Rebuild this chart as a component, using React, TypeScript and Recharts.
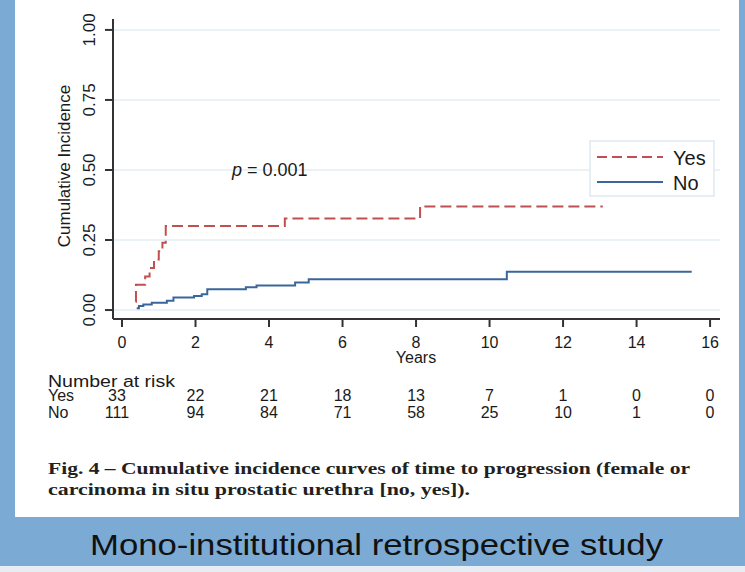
import React from "react";
import { LineChart, Line, XAxis, YAxis, CartesianGrid } from "recharts";

// ---- data ----
const yesTimes = [0.37, 0.38, 0.63, 0.75, 0.87, 1.0, 1.1, 1.19, 4.43, 8.11, 13.08];
const yesValues = [0.03, 0.09, 0.12, 0.15, 0.18, 0.21, 0.24, 0.3, 0.327, 0.37, 0.37];

const noTimes = [0.4, 0.46, 0.58, 0.81, 1.22, 1.4, 1.96, 2.17, 2.32, 3.37, 3.66, 4.71, 5.08, 10.47, 15.5];
const noValues = [0.006, 0.014, 0.02, 0.026, 0.033, 0.045, 0.05, 0.056, 0.074, 0.081, 0.088, 0.098, 0.11, 0.137, 0.137];

const xTicks = [0, 2, 4, 6, 8, 10, 12, 14, 16];
const yTicks = [0, 0.25, 0.5, 0.75, 1];
const riskYes = [33, 22, 21, 18, 13, 7, 1, 0, 0];
const riskNo = [111, 94, 84, 71, 58, 25, 10, 1, 0];

const seriesNames = ["Yes", "No"];
const pText = "0.001";
const yLabel = "Cumulative Incidence";
const xLabel = "Years";
const riskTitle = "Number at risk";
const captionLines = [
  "Fig. 4 \u2013 Cumulative incidence curves of time to progression (female or",
  "carcinoma in situ prostatic urethra [no, yes]).",
];
const footer = "Mono-institutional retrospective study";

const yesData = yesTimes.map((t, i) => ({ t, v: yesValues[i] }));
const noData = noTimes.map((t, i) => ({ t, v: noValues[i] }));

// ---- styles ----
const RED = "#c0504f";
const BLUE = "#3a679b";
const AXIS = "#333333";
const SANS = "'Liberation Sans', Arial, Helvetica, sans-serif";
const SERIF = "'Liberation Serif', 'Times New Roman', serif";
const TABLE_FS = 16;

const XTick = (props: any) => {
  const { x, y, payload } = props;
  const v = payload.value;
  const i = xTicks.indexOf(v);
  const shift = i === 0 ? -5 : 0;
  return (
    <g fontFamily={SANS} fill="#1a1a1a">
      <text x={x} y={y + 19} textAnchor="middle" fontSize={16} fill="#1a1a1a">
        {v}
      </text>
      <text x={x + shift} y={y + 72} textAnchor="middle" fontSize={TABLE_FS} fill="#1a1a1a">
        {riskYes[i]}
      </text>
      <text x={x + shift} y={y + 88.5} textAnchor="middle" fontSize={TABLE_FS} fill="#1a1a1a">
        {riskNo[i]}
      </text>
    </g>
  );
};

const YTick = (props: any) => {
  const { x, y, payload } = props;
  const bx = x - 8;
  return (
    <text
      x={bx}
      y={y}
      transform={`rotate(-90, ${bx}, ${y})`}
      textAnchor="middle"
      fontSize={17}
      fontFamily={SANS}
      fill="#1a1a1a"
    >
      {Number(payload.value).toFixed(2)}
    </text>
  );
};

export default function App() {
  return (
    <div
      style={{
        position: "absolute",
        left: 0,
        top: 0,
        width: 745,
        height: 572,
        background: "#7baad4",
        overflow: "hidden",
      }}
    >
      <div style={{ position: "absolute", left: 0, top: 566, width: 745, height: 6, background: "#e6edf5" }} />
      <div style={{ position: "absolute", left: 15, top: 0, width: 724, height: 517, background: "#ffffff" }} />
      <div style={{ position: "absolute", left: 0, top: 0 }}>
        <LineChart
          width={745}
          height={572}
          margin={{ top: 19, right: 25, bottom: 223, left: 53 }}
        >
          <CartesianGrid
            horizontal={true}
            vertical={false}
            stroke="#e4eef2"
            strokeWidth={1.5}
            horizontalValues={yTicks}
          />
          <XAxis
            type="number"
            dataKey="t"
            domain={[-0.245, 16.27]}
            allowDataOverflow
            ticks={xTicks}
            interval={0}
            height={30}
            tickSize={8}
            tickMargin={2}
            stroke={AXIS}
            strokeWidth={2}
            tickLine={{ stroke: AXIS, strokeWidth: 2 }}
            axisLine={{ stroke: AXIS, strokeWidth: 2 }}
            tick={<XTick />}
          />
          <YAxis
            type="number"
            domain={[-0.032, 1.039]}
            allowDataOverflow
            ticks={yTicks}
            interval={0}
            width={60}
            tickSize={8}
            tickMargin={2}
            stroke={AXIS}
            strokeWidth={2}
            tickLine={{ stroke: AXIS, strokeWidth: 2 }}
            axisLine={{ stroke: AXIS, strokeWidth: 2 }}
            tick={<YTick />}
          />
          <Line
            data={noData}
            dataKey="v"
            name={seriesNames[1]}
            type="stepAfter"
            stroke={BLUE}
            strokeWidth={2}
            dot={false}
            activeDot={false}
            isAnimationActive={false}
          />
          <Line
            data={yesData}
            dataKey="v"
            name={seriesNames[0]}
            type="stepAfter"
            stroke={RED}
            strokeWidth={2}
            strokeDasharray="11 5"
            dot={false}
            activeDot={false}
            isAnimationActive={false}
          />
        </LineChart>
      </div>
      <svg
        width={745}
        height={572}
        style={{ position: "absolute", left: 0, top: 0, pointerEvents: "none" }}
      >
        {/* y axis title */}
        <text
          x={70}
          y={166}
          transform="rotate(-90, 70, 166)"
          textAnchor="middle"
          fontSize={17}
          fontFamily={SANS}
          fill="#1a1a1a"
        >
          {yLabel}
        </text>
        {/* p value */}
        <text x={232} y={175.5} fontSize={18} fontFamily={SANS} fill="#1a1a1a">
          <tspan fontStyle="italic">p</tspan>
          {" = " + pText}
        </text>
        {/* legend */}
        <rect x={590} y={141} width={124} height={55} fill="#ffffff" stroke="#dfe9ef" strokeWidth={1.5} />
        <line x1={597} y1={157} x2={663} y2={157} stroke={RED} strokeWidth={2} strokeDasharray="10 5" />
        <line x1={597} y1={182} x2={663} y2={182} stroke={BLUE} strokeWidth={2} />
        <text x={673} y={165} fontSize={20} fontFamily={SANS} fill="#1a1a1a">
          {seriesNames[0]}
        </text>
        <text x={673} y={190} fontSize={20} fontFamily={SANS} fill="#1a1a1a">
          {seriesNames[1]}
        </text>
        {/* x axis title */}
        <text x={416} y={363} textAnchor="middle" fontSize={16} fontFamily={SANS} fill="#1a1a1a">
          {xLabel}
        </text>
        {/* risk table labels */}
        <text x={48} y={386.5} fontSize={TABLE_FS} fontFamily={SANS} fill="#1a1a1a" textLength={127} lengthAdjust="spacingAndGlyphs">
          {riskTitle}
        </text>
        <text x={48} y={401} fontSize={TABLE_FS} fontFamily={SANS} fill="#1a1a1a">
          {seriesNames[0]}
        </text>
        <text x={48} y={417.5} fontSize={TABLE_FS} fontFamily={SANS} fill="#1a1a1a">
          {seriesNames[1]}
        </text>
        {/* caption */}
        <text x={48} y={473.5} fontSize={17.5} fontWeight="bold" fontFamily={SERIF} fill="#231f20" textLength={642} lengthAdjust="spacingAndGlyphs">
          {captionLines[0]}
        </text>
        <text x={48} y={495} fontSize={17.5} fontWeight="bold" fontFamily={SERIF} fill="#231f20" textLength={422} lengthAdjust="spacingAndGlyphs">
          {captionLines[1]}
        </text>
        {/* footer */}
        <text x={90} y={555} fontSize={30} fontFamily={SANS} fill="#111111" textLength={573} lengthAdjust="spacingAndGlyphs">
          {footer}
        </text>
      </svg>
    </div>
  );
}
